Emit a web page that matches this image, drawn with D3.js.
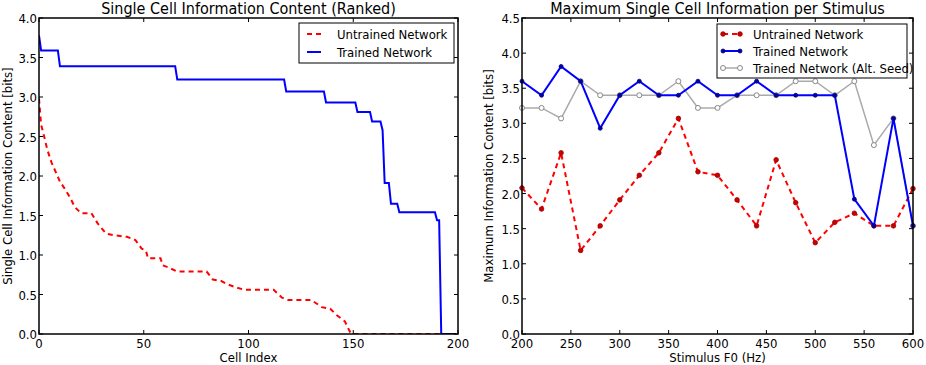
<!DOCTYPE html>
<html>
<head>
<meta charset="utf-8">
<script src="https://cdn.jsdelivr.net/npm/d3@7"></script>
<style>
  body { margin: 0; background: #fff; }
  svg { font-family: "DejaVu Sans Condensed", "DejaVu Sans", sans-serif; }
</style>
</head>
<body>
<svg id="fig" width="926" height="365"></svg>
<script>
// ---- left panel: ranked single cell information ----
// trained network: step levels and how many cells sit on each level
const trainedLevels = [3.78, 3.59, 3.39, 3.22, 3.07, 2.93, 2.81, 2.69, 2.58, 1.91, 1.65, 1.54, 1.44, 0];
const trainedRuns   = [1,    9,    56,   52,   19,   15,   7,    5,    1,    3,    4,    18,   2,    8];
const untrainedIdx = [0, 1, 2, 4, 6, 8, 10, 12, 15, 17, 20, 25, 28, 32, 36, 42, 46, 49, 51, 52, 58, 59, 62, 66, 80, 83, 87, 90, 94, 98, 112, 116, 119, 130, 135, 139, 142, 146, 148, 149, 199];
const untrainedBits = [2.98, 2.65, 2.55, 2.33, 2.17, 2.05, 1.93, 1.85, 1.72, 1.61, 1.53, 1.53, 1.40, 1.27, 1.25, 1.23, 1.19, 1.08, 1.06, 0.96, 0.96, 0.87, 0.84, 0.79, 0.79, 0.69, 0.67, 0.63, 0.59, 0.56, 0.56, 0.46, 0.43, 0.43, 0.34, 0.32, 0.24, 0.16, 0.05, 0, 0];

// ---- right panel: maximum info per stimulus ----
const stimF0 = [200, 220, 240, 260, 280, 300, 320, 340, 360, 380, 400, 420, 440, 460, 480, 500, 520, 540, 560, 580, 600];
const maxUntrained = [2.08, 1.78, 2.58, 1.19, 1.54, 1.91, 2.26, 2.58, 3.07, 2.31, 2.26, 1.91, 1.54, 2.48, 1.87, 1.30, 1.59, 1.72, 1.54, 1.54, 2.07];
const maxTrained   = [3.60, 3.40, 3.81, 3.60, 2.93, 3.40, 3.60, 3.40, 3.40, 3.60, 3.40, 3.40, 3.60, 3.40, 3.40, 3.40, 3.40, 1.92, 1.54, 3.07, 1.54];
const maxAltSeed   = [3.22, 3.22, 3.07, 3.60, 3.40, 3.40, 3.40, 3.40, 3.60, 3.22, 3.22, 3.40, 3.40, 3.40, 3.60, 3.60, 3.40, 3.60, 2.69, 3.07, 1.54];

const leftTicksX = [0, 50, 100, 150, 200];
const leftTicksY = [0, 0.5, 1, 1.5, 2, 2.5, 3, 3.5, 4];
const rightTicksX = [200, 250, 300, 350, 400, 450, 500, 550, 600];
const rightTicksY = [0, 0.5, 1, 1.5, 2, 2.5, 3, 3.5, 4, 4.5];

const svg = d3.select("#fig");

// expand step runs into one value per cell
let trainedCells = [];
trainedLevels.forEach(function(v, i){
    for(let k = 0; k < trainedRuns[i]; k++) trainedCells.push(v);
});

/**
 * draw a matplotlib-like frame with inward ticks on all four sides
 */
function drawFrame(g, x, y, xt, yt, xfmt, yfmt){
    const w = x.range()[1], h = y.range()[0];
    const tk = 4;
    g.selectAll(".xt").data(xt).enter().append("g").each(function(d){
        const s = d3.select(this);
        s.append("line").attr("x1", x(d)).attr("x2", x(d)).attr("y1", h).attr("y2", h - tk).attr("stroke", "#000");
        s.append("line").attr("x1", x(d)).attr("x2", x(d)).attr("y1", 0).attr("y2", tk).attr("stroke", "#000");
        s.append("text").attr("x", x(d)).attr("y", h + 14).attr("text-anchor", "middle")
            .attr("font-size", 13).text(xfmt(d));
    });
    g.selectAll(".yt").data(yt).enter().append("g").each(function(d){
        const s = d3.select(this);
        s.append("line").attr("x1", 0).attr("x2", tk).attr("y1", y(d)).attr("y2", y(d)).attr("stroke", "#000");
        s.append("line").attr("x1", w).attr("x2", w - tk).attr("y1", y(d)).attr("y2", y(d)).attr("stroke", "#000");
        s.append("text").attr("x", -2).attr("y", y(d) + 5).attr("text-anchor", "end")
            .attr("font-size", 13).text(yfmt(d));
    });
    g.append("rect").attr("width", w).attr("height", h)
        .attr("fill", "none").attr("stroke", "#000").attr("stroke-width", 1.5);
}

// ---------------- left panel ----------------
const L = {left: 39, top: 18, w: 419, h: 316};
const gl = svg.append("g").attr("transform", `translate(${L.left},${L.top})`);
const xl = d3.scaleLinear().domain([0, 200]).range([0, L.w]);
const yl = d3.scaleLinear().domain([0, 4]).range([L.h, 0]);

gl.append("defs").append("clipPath").attr("id", "clipL")
    .append("rect").attr("width", L.w).attr("height", L.h);

const lineL = d3.line().x(d => xl(d[0])).y(d => yl(d[1]));
gl.append("path").attr("clip-path", "url(#clipL)")
    .datum(untrainedIdx.map((d, i) => [d, untrainedBits[i]]))
    .attr("d", lineL).attr("fill", "none").attr("stroke", "#ff0000")
    .attr("stroke-width", 2).attr("stroke-dasharray", "5,4");
gl.append("path").attr("clip-path", "url(#clipL)")
    .datum(trainedCells.map((v, i) => [i, v]))
    .attr("d", lineL).attr("fill", "none").attr("stroke", "#0000ff").attr("stroke-width", 2);

drawFrame(gl, xl, yl, leftTicksX, leftTicksY, d3.format("d"), d3.format(".1f"));

gl.append("text").attr("x", L.w / 2).attr("y", -4).attr("text-anchor", "middle")
    .attr("font-size", 16).text("Single Cell Information Content (Ranked)");
gl.append("text").attr("x", L.w / 2).attr("y", L.h + 28).attr("text-anchor", "middle")
    .attr("font-size", 13).text("Cell Index");
gl.append("text").attr("transform", `translate(${-27},${L.h / 2}) rotate(-90)`)
    .attr("text-anchor", "middle").attr("font-size", 13).text("Single Cell Information Content [bits]");

// left legend
const legL = gl.append("g").attr("transform", `translate(${L.w - 159},5)`);
legL.append("rect").attr("width", 155).attr("height", 40).attr("fill", "#fff").attr("stroke", "#000").attr("stroke-width", 1);
[["Untrained Network", "#ff0000", "5,4"], ["Trained Network", "#0000ff", null]].forEach(function(e, i){
    const yy = 11 + i * 18;
    legL.append("line").attr("x1", 8).attr("x2", 22).attr("y1", yy).attr("y2", yy)
        .attr("stroke", e[1]).attr("stroke-width", 2).attr("stroke-dasharray", e[2]);
    legL.append("text").attr("x", 38).attr("y", yy + 5).attr("font-size", 13).text(e[0]);
});

// ---------------- right panel ----------------
const R = {left: 522, top: 18, w: 391, h: 316};
const gr = svg.append("g").attr("transform", `translate(${R.left},${R.top})`);
const xr = d3.scaleLinear().domain([200, 600]).range([0, R.w]);
const yr = d3.scaleLinear().domain([0, 4.5]).range([R.h, 0]);
const lineR = d3.line().x(d => xr(d[0])).y(d => yr(d[1]));

function series(vals, color, width, dash, mk){
    const pts = stimF0.map((f, i) => [f, vals[i]]);
    gr.append("path").datum(pts).attr("d", lineR).attr("fill", "none")
        .attr("stroke", color).attr("stroke-width", width).attr("stroke-dasharray", dash);
    gr.selectAll(null).data(pts).enter().append("circle")
        .attr("cx", d => xr(d[0])).attr("cy", d => yr(d[1]))
        .attr("r", mk.r).attr("fill", mk.fill).attr("stroke", mk.stroke).attr("stroke-width", mk.sw);
}
const mkAlt = {r: 2.5, fill: "#fff", stroke: "#888", sw: 1};
const mkUn = {r: 2.3, fill: "#cc0000", stroke: "#990000", sw: 0.8};
const mkTr = {r: 2, fill: "#0000aa", stroke: "#000080", sw: 0.8};
series(maxAltSeed, "#aaaaaa", 1.5, null, mkAlt);
series(maxUntrained, "#ff0000", 2, "5,4", mkUn);
series(maxTrained, "#0000ff", 2, null, mkTr);

drawFrame(gr, xr, yr, rightTicksX, rightTicksY, d3.format("d"), d3.format(".1f"));

gr.append("text").attr("x", R.w / 2).attr("y", -4).attr("text-anchor", "middle")
    .attr("font-size", 16).text("Maximum Single Cell Information per Stimulus");
gr.append("text").attr("x", R.w / 2).attr("y", R.h + 28).attr("text-anchor", "middle")
    .attr("font-size", 13).text("Stimulus F0 (Hz)");
gr.append("text").attr("transform", `translate(${-29},${R.h / 2}) rotate(-90)`)
    .attr("text-anchor", "middle").attr("font-size", 13).text("Maximum Information Content [bits]");

// right legend
const legR = gr.append("g").attr("transform", `translate(${R.w - 196},6)`);
legR.append("rect").attr("width", 190).attr("height", 54).attr("fill", "#fff").attr("stroke", "#000").attr("stroke-width", 1);
[
    ["Untrained Network", "#ff0000", 2, "5,4", mkUn],
    ["Trained Network", "#0000ff", 2, null, mkTr],
    ["Trained Network (Alt. Seed)", "#aaaaaa", 1.5, null, mkAlt]
].forEach(function(e, i){
    const yy = 10 + i * 17;
    legR.append("line").attr("x1", 6).attr("x2", 23).attr("y1", yy).attr("y2", yy)
        .attr("stroke", e[1]).attr("stroke-width", e[2]).attr("stroke-dasharray", e[3]);
    [6, 23].forEach(function(cx){
        legR.append("circle").attr("cx", cx).attr("cy", yy).attr("r", e[4].r)
            .attr("fill", e[4].fill).attr("stroke", e[4].stroke).attr("stroke-width", e[4].sw);
    });
    legR.append("text").attr("x", 36).attr("y", yy + 5).attr("font-size", 13).text(e[0]);
});
</script>
</body>
</html>
